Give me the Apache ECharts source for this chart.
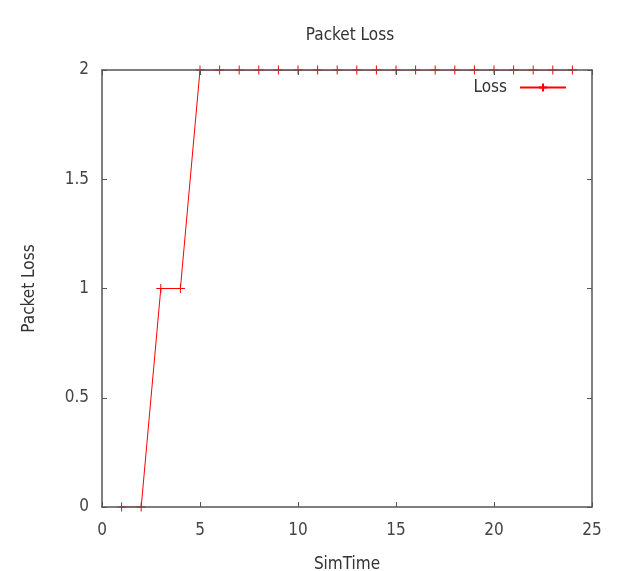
<!DOCTYPE html>
<html>
<head>
<meta charset="utf-8">
<script src="https://cdn.jsdelivr.net/npm/echarts@6/dist/echarts.min.js"></script>
<style>
  html, body { margin: 0; padding: 0; background: #fff; }
  #main { width: 630px; height: 571px; }
</style>
</head>
<body>
<div id="main"></div>
<script>
// 数据
var simTime = [1, 2, 3, 4, 5, 6, 7, 8, 9, 10, 11, 12, 13, 14, 15, 16, 17, 18, 19, 20, 21, 22, 23, 24];
var loss = [0, 0, 1, 1, 2, 2, 2, 2, 2, 2, 2, 2, 2, 2, 2, 2, 2, 2, 2, 2, 2, 2, 2, 2];

var FONT = "'DejaVu Sans Condensed', 'DejaVu Sans', sans-serif";
var plus = 'path://M4.5,0L4.5,9M0,4.5L9,4.5';
var FRAME = '#555';

var points = simTime.map(function (t, i) { return [t, loss[i]]; });

function $extend(a, b) {
    for (var k in b) a[k] = b[k];
    return a;
}
// 坐标轴公共样式（四边框）
function frameAxis(extra) {
    return $extend({
        z: 5,
        axisLine: { show: true, onZero: false, lineStyle: { color: FRAME, width: 1.5 } },
        axisTick: { show: true, inside: true, length: 5, lineStyle: { color: FRAME, width: 1 } },
        splitLine: { show: false }
    }, extra);
}

var myChart = echarts.init(document.getElementById('main'));

var option = {
    animation: false,
    title: {
        text: 'Packet Loss',
        left: 345,
        top: 22,
        textAlign: 'center',
        textStyle: { fontFamily: FONT, fontSize: 17, fontWeight: 'normal', color: '#333' }
    },
    legend: {
        right: 58,
        top: 74,
        align: 'right',
        itemWidth: 46,
        itemHeight: 10,
        itemGap: 0,
        textStyle: { fontFamily: FONT, fontSize: 17, color: '#333', padding: [0, 8, 0, 0] },
        data: ['Loss']
    },
    grid: { left: 102, right: 38, top: 70, bottom: 64, outerBoundsMode: 'none', containLabel: false },
    xAxis: [
        frameAxis({
            type: 'value', min: 0, max: 25, interval: 5, position: 'bottom',
            name: 'SimTime', nameLocation: 'middle', nameGap: 49,
            nameTextStyle: { fontFamily: FONT, fontSize: 17, color: '#333' },
            axisLabel: { fontFamily: FONT, fontSize: 17, color: '#444', margin: 15 }
        }),
        frameAxis({
            type: 'value', min: 0, max: 25, interval: 5, position: 'top',
            axisLabel: { show: false }
        })
    ],
    yAxis: [
        frameAxis({
            type: 'value', min: 0, max: 2, interval: 0.5, position: 'left',
            name: 'Packet Loss', nameLocation: 'middle', nameGap: 64,
            nameTextStyle: { fontFamily: FONT, fontSize: 17, color: '#333' },
            axisLabel: { fontFamily: FONT, fontSize: 17, color: '#444', margin: 13 }
        }),
        frameAxis({
            type: 'value', min: 0, max: 2, interval: 0.5, position: 'right',
            axisLabel: { show: false }
        })
    ],
    series: [{
        name: 'Loss',
        type: 'line',
        data: points,
        symbol: plus,
        symbolSize: 9,
        showAllSymbol: true,
        z: 2,
        lineStyle: { color: '#f00', width: 1 },
        itemStyle: { color: 'none', borderColor: '#f00', borderWidth: 1 }
    }]
};

myChart.setOption(option);
</script>
</body>
</html>
